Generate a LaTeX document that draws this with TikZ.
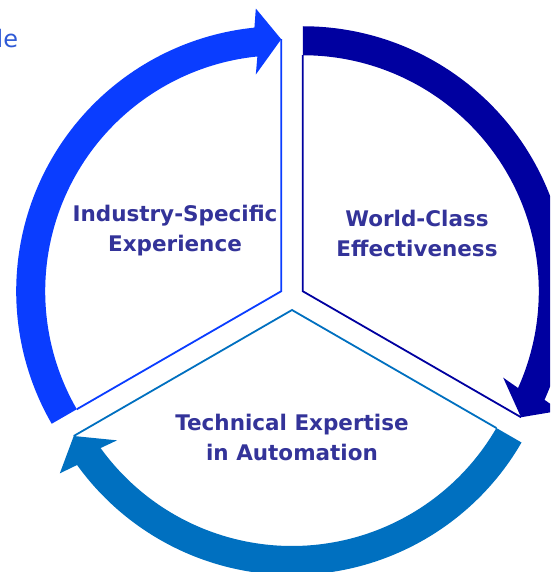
\documentclass[tikz,border=0pt]{standalone}
\usepackage{fontspec}
\setmainfont{DejaVu Sans}
\definecolor{bandL}{RGB}{10,61,255}
\definecolor{bandR}{RGB}{0,0,160}
\definecolor{bandB}{RGB}{0,112,192}
\definecolor{lbl}{RGB}{51,51,153}
\definecolor{cutword}{RGB}{47,90,214}
\tikzset{
  pics/arrowsector/.style={code={
    \fill[#1] (60:236) -- (60:265) arc[start angle=60,end angle=-54.2,radius=265]
      -- (163.34,-232.16) -- (-60:252) -- (130.34,-174.99)
      -- (-54.2:236) arc[start angle=-54.2,end angle=60,radius=236] -- cycle;
    \draw[#1, line width=1.8pt, line join=miter] (60:236) -- (0,0) -- (-60:252);
  }},
  lbltext/.style={text=lbl, align=center, inner sep=0pt,
    font=\fontsize{21.5}{30}\selectfont\bfseries},
}
\begin{document}
\begin{tikzpicture}[x=1pt,y=1pt]
  \clip (0,-572) rectangle (550,0);
  \fill[white] (0,-572) rectangle (550,0);
  \coordinate (L) at (281.2,-291.25);
  \coordinate (R) at (302.8,-291.25);
  \coordinate (B) at (292,-310);
  \pic[rotate=270] at (B) {arrowsector=bandB};
  \pic[rotate=150] at (L) {arrowsector=bandL};
  \pic[rotate=30] at (R) {arrowsector=bandR};
  \node[lbltext] (ind) at (175,-231) {Industry-Specific\\Experience};
  \node[lbltext] (wcl) at (417,-233) {World-Class\\Effectiveness};
  \node[lbltext] (tec) at (292,-437) {Technical Expertise\\in Automation};
  \node[anchor=base west, text=cutword, inner sep=0pt,
    font=\fontsize{24}{28}\selectfont] (le) at (-3.5,-48) {le};
\end{tikzpicture}
\end{document}
